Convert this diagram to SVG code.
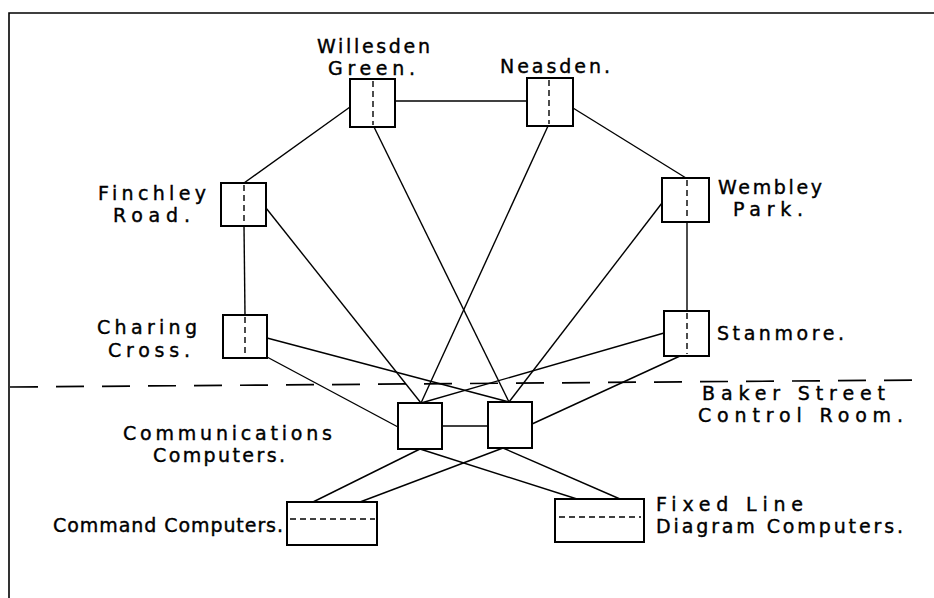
<svg xmlns="http://www.w3.org/2000/svg" width="934" height="598" viewBox="0 0 934 598">
  <style>
    .frame { fill: none; stroke: #000; stroke-width: 1.6; }
    .box { fill: #fff; stroke: #000; stroke-width: 2; }
    .split { fill: none; stroke: #000; stroke-width: 1.4; stroke-dasharray: 6 4; }
    .wire { fill: none; stroke: #000; stroke-width: 1.4; }
    .boundary { fill: none; stroke: #000; stroke-width: 1.7; stroke-dasharray: 28 18; }
    .label { font-family: "DejaVu Sans", "Liberation Sans", sans-serif; font-size: 19px; fill: #000; stroke: #000; stroke-width: 0.4; }
  </style>
  <rect width="934" height="598" fill="#fff"/>

  <!-- page frame (top and left edges) -->
  <path class="frame" d="M9 598 V13 H934"/>

  <!-- control room boundary -->
  <path class="boundary" d="M10 387 L925 380"/>

  <!-- connectors -->
  <g id="connectors">
    <!-- outer ring -->
    <line class="wire" x1="350" y1="107" x2="244" y2="183"/>
    <line class="wire" x1="395" y1="101" x2="527" y2="101"/>
    <line class="wire" x1="573" y1="108" x2="686" y2="178"/>
    <line class="wire" x1="244" y1="226" x2="245" y2="315"/>
    <line class="wire" x1="687" y1="222" x2="687" y2="311"/>
    <!-- stations to communications computers -->
    <line class="wire" x1="266" y1="208" x2="421" y2="403"/>
    <line class="wire" x1="548" y1="126" x2="421" y2="403"/>
    <line class="wire" x1="664" y1="333" x2="421" y2="403"/>
    <line class="wire" x1="374" y1="127" x2="509" y2="402"/>
    <line class="wire" x1="662" y1="203" x2="509" y2="402"/>
    <line class="wire" x1="267" y1="338" x2="509" y2="402"/>
    <line class="wire" x1="267" y1="357" x2="398" y2="427"/>
    <line class="wire" x1="680" y1="356" x2="532" y2="424"/>
    <!-- between communications computers -->
    <line class="wire" x1="442" y1="426" x2="488" y2="426"/>
    <!-- communications computers to command / fixed line computers -->
    <line class="wire" x1="420" y1="449" x2="313" y2="502"/>
    <line class="wire" x1="503" y1="448" x2="360" y2="502"/>
    <line class="wire" x1="420" y1="449" x2="577" y2="499"/>
    <line class="wire" x1="503" y1="448" x2="620" y2="499"/>
  </g>

  <!-- stations -->
  <g id="willesden-green">
    <rect class="box" x="350" y="79" width="45" height="48"/>
    <line class="split" x1="373" y1="81" x2="373" y2="125"/>
    <text class="label" x="317" y="53" textLength="113" lengthAdjust="spacing">Willesden</text>
    <text class="label" x="328" y="75" textLength="87" lengthAdjust="spacing">Green.</text>
  </g>
  <g id="neasden">
    <rect class="box" x="527" y="78" width="46" height="48"/>
    <line class="split" x1="549" y1="80" x2="549" y2="124"/>
    <text class="label" x="500" y="73" textLength="110" lengthAdjust="spacing">Neasden.</text>
  </g>
  <g id="finchley-road">
    <rect class="box" x="221" y="183" width="45" height="43"/>
    <line class="split" x1="244" y1="185" x2="244" y2="224"/>
    <text class="label" x="98" y="200" textLength="108" lengthAdjust="spacing">Finchley</text>
    <text class="label" x="113" y="222" textLength="77" lengthAdjust="spacing">Road.</text>
  </g>
  <g id="charing-cross">
    <rect class="box" x="223" y="315" width="44" height="43"/>
    <line class="split" x1="245" y1="317" x2="245" y2="356"/>
    <text class="label" x="97" y="334" textLength="100" lengthAdjust="spacing">Charing</text>
    <text class="label" x="108" y="357" textLength="82" lengthAdjust="spacing">Cross.</text>
  </g>
  <g id="wembley-park">
    <rect class="box" x="662" y="178" width="47" height="44"/>
    <line class="split" x1="687" y1="180" x2="687" y2="220"/>
    <text class="label" x="718" y="194" textLength="104" lengthAdjust="spacing">Wembley</text>
    <text class="label" x="733" y="216" textLength="70" lengthAdjust="spacing">Park.</text>
  </g>
  <g id="stanmore">
    <rect class="box" x="664" y="311" width="45" height="45"/>
    <line class="split" x1="687" y1="313" x2="687" y2="354"/>
    <text class="label" x="717" y="340" textLength="127" lengthAdjust="spacing">Stanmore.</text>
  </g>

  <!-- control room -->
  <g id="control-room-label">
    <text class="label" x="702" y="400" textLength="183" lengthAdjust="spacing">Baker Street</text>
    <text class="label" x="698" y="422" textLength="205" lengthAdjust="spacing">Control Room.</text>
  </g>
  <g id="communications-computers">
    <rect class="box" x="398" y="403" width="44" height="46"/>
    <rect class="box" x="488" y="402" width="44" height="46"/>
    <text class="label" x="123" y="440" textLength="209" lengthAdjust="spacing">Communications</text>
    <text class="label" x="153" y="462" textLength="132" lengthAdjust="spacing">Computers.</text>
  </g>
  <g id="command-computers">
    <rect class="box" x="287" y="502" width="90" height="43"/>
    <line class="split" x1="290" y1="519" x2="375" y2="519"/>
    <text class="label" x="53" y="532" textLength="230" lengthAdjust="spacing">Command Computers.</text>
  </g>
  <g id="fixed-line-diagram-computers">
    <rect class="box" x="555" y="499" width="89" height="43"/>
    <line class="split" x1="559" y1="517" x2="641" y2="517"/>
    <text class="label" x="656" y="511" textLength="147" lengthAdjust="spacing">Fixed Line</text>
    <text class="label" x="656" y="533" textLength="247" lengthAdjust="spacing">Diagram Computers.</text>
  </g>
</svg>
